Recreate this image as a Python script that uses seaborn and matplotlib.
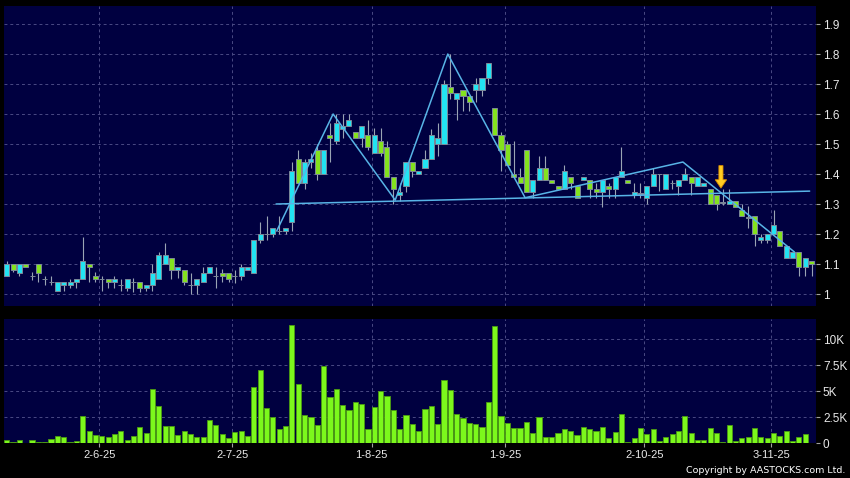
import matplotlib
matplotlib.use('Agg')
import matplotlib.pyplot as plt
from matplotlib.patches import FancyArrow
import numpy as np
import seaborn as sns

# daily OHLC, 13-May-2025 .. 12-Nov-2025 (trading days)
opens = [
    1.06, 1.10, 1.07, 1.10, 1.06, 1.10, 1.05, 1.04, 1.01, 1.03,
    1.03, 1.04, 1.05, 1.10, 1.06, 1.05, 1.05, 1.04, 1.03, 1.02,
    1.04, 1.04, 1.02, 1.03, 1.05, 1.10, 1.12, 1.08, 1.08, 1.03,
    1.03, 1.04, 1.07, 1.06, 1.07, 1.07, 1.06, 1.06, 1.08, 1.07,
    1.18, 1.20, 1.20, 1.21, 1.21, 1.24, 1.45, 1.37, 1.44, 1.48,
    1.40, 1.53, 1.51, 1.55, 1.56, 1.54, 1.52, 1.53, 1.47, 1.51,
    1.49, 1.39, 1.33, 1.36, 1.44, 1.40, 1.42, 1.45, 1.50, 1.50,
    1.69, 1.65, 1.68, 1.66, 1.68, 1.68, 1.72, 1.62, 1.53, 1.50,
    1.40, 1.39, 1.48, 1.34, 1.38, 1.42, 1.38, 1.36, 1.35, 1.39,
    1.36, 1.38, 1.38, 1.35, 1.34, 1.36, 1.35, 1.39, 1.38, 1.33,
    1.335, 1.32, 1.36, 1.40, 1.35, 1.37, 1.36, 1.38, 1.39, 1.36,
    1.36, 1.35, 1.33, 1.305, 1.30, 1.31, 1.28, 1.255, 1.26, 1.18,
    1.18, 1.20, 1.21, 1.12, 1.12, 1.14, 1.09, 1.11]
closes = [
    1.10, 1.08, 1.10, 1.09, 1.06, 1.07, 1.05, 1.04, 1.04, 1.04,
    1.04, 1.05, 1.11, 1.09, 1.05, 1.05, 1.04, 1.05, 1.03, 1.05,
    1.04, 1.02, 1.03, 1.07, 1.13, 1.13, 1.08, 1.09, 1.04, 1.03,
    1.05, 1.07, 1.09, 1.06, 1.06, 1.05, 1.06, 1.09, 1.09, 1.18,
    1.20, 1.20, 1.22, 1.21, 1.22, 1.41, 1.37, 1.44, 1.45, 1.40,
    1.48, 1.52, 1.57, 1.56, 1.58, 1.52, 1.56, 1.49, 1.53, 1.47,
    1.39, 1.35, 1.34, 1.44, 1.41, 1.41, 1.45, 1.53, 1.52, 1.70,
    1.67, 1.67, 1.66, 1.64, 1.70, 1.72, 1.77, 1.53, 1.48, 1.43,
    1.39, 1.37, 1.34, 1.38, 1.42, 1.38, 1.37, 1.35, 1.41, 1.37,
    1.32, 1.39, 1.35, 1.34, 1.38, 1.35, 1.39, 1.41, 1.37, 1.34,
    1.335, 1.36, 1.40, 1.40, 1.40, 1.37, 1.38, 1.40, 1.37, 1.39,
    1.37, 1.30, 1.30, 1.305, 1.31, 1.29, 1.26, 1.255, 1.20, 1.19,
    1.20, 1.23, 1.16, 1.16, 1.14, 1.09, 1.12, 1.10]
highs = [
    1.11, 1.10, 1.10, 1.10, 1.075, 1.10, 1.06, 1.06, 1.04, 1.04,
    1.05, 1.05, 1.19, 1.10, 1.075, 1.06, 1.05, 1.06, 1.05, 1.05,
    1.055, 1.04, 1.03, 1.10, 1.14, 1.17, 1.12, 1.09, 1.08, 1.07,
    1.05, 1.09, 1.09, 1.09, 1.085, 1.07, 1.08, 1.10, 1.09, 1.18,
    1.24, 1.26, 1.22, 1.26, 1.22, 1.44, 1.48, 1.45, 1.47, 1.50,
    1.48, 1.57, 1.60, 1.60, 1.60, 1.54, 1.56, 1.58, 1.555, 1.555,
    1.51, 1.39, 1.37, 1.44, 1.44, 1.41, 1.48, 1.55, 1.57, 1.715,
    1.80, 1.67, 1.68, 1.66, 1.72, 1.72, 1.77, 1.62, 1.54, 1.51,
    1.51, 1.42, 1.48, 1.38, 1.46, 1.46, 1.38, 1.36, 1.43, 1.39,
    1.36, 1.39, 1.38, 1.37, 1.38, 1.37, 1.39, 1.49, 1.38, 1.37,
    1.37, 1.36, 1.42, 1.40, 1.40, 1.38, 1.38, 1.42, 1.39, 1.39,
    1.37, 1.35, 1.33, 1.35, 1.35, 1.31, 1.30, 1.295, 1.26, 1.20,
    1.20, 1.28, 1.21, 1.16, 1.14, 1.14, 1.12, 1.11]
lows = [
    1.06, 1.075, 1.06, 1.09, 1.048, 1.04, 1.03, 1.03, 1.01, 1.01,
    1.02, 1.02, 1.05, 1.04, 1.04, 1.01, 1.02, 1.02, 1.01, 1.01,
    1.007, 1.007, 1.01, 1.01, 1.05, 1.10, 1.05, 1.053, 1.03, 1.00,
    1.00, 1.04, 1.07, 1.02, 1.04, 1.04, 1.036, 1.047, 1.08, 1.07,
    1.17, 1.18, 1.19, 1.20, 1.20, 1.21, 1.37, 1.35, 1.42, 1.38,
    1.40, 1.44, 1.50, 1.52, 1.56, 1.52, 1.49, 1.48, 1.47, 1.46,
    1.39, 1.30, 1.31, 1.34, 1.39, 1.40, 1.42, 1.45, 1.46, 1.50,
    1.65, 1.58, 1.61, 1.61, 1.64, 1.66, 1.70, 1.53, 1.41, 1.43,
    1.39, 1.37, 1.34, 1.32, 1.38, 1.38, 1.37, 1.35, 1.35, 1.35,
    1.32, 1.38, 1.32, 1.32, 1.29, 1.32, 1.32, 1.39, 1.37, 1.32,
    1.32, 1.30, 1.36, 1.345, 1.35, 1.35, 1.33, 1.38, 1.33, 1.36,
    1.36, 1.30, 1.28, 1.298, 1.30, 1.29, 1.26, 1.22, 1.16, 1.17,
    1.17, 1.20, 1.16, 1.12, 1.12, 1.06, 1.06, 1.06]
# volume in thousands
volumes = [
    0.32, 0.16, 0.29, 0.03, 0.29, 0.13, 0.13, 0.45, 0.70, 0.64,
    0.10, 0.22, 2.66, 1.15, 0.80, 0.70, 0.60, 0.87, 1.15, 0.32,
    0.70, 1.54, 0.96, 5.20, 3.62, 1.67, 1.63, 0.80, 1.22, 0.90,
    0.60, 0.60, 2.21, 1.73, 0.93, 0.54, 1.12, 1.19, 0.70, 5.42,
    7.02, 3.43, 2.50, 1.41, 1.63, 11.35, 5.74, 2.72, 2.53, 1.73,
    7.47, 4.42, 5.22, 3.69, 3.17, 4.00, 3.78, 1.38, 3.49, 5.03,
    4.55, 3.17, 1.38, 2.69, 1.86, 1.15, 3.33, 3.62, 1.83, 6.09,
    5.13, 2.82, 2.40, 1.99, 1.86, 1.60, 3.97, 11.28, 2.66, 1.92,
    1.44, 1.44, 2.08, 1.03, 2.53, 0.61, 0.61, 0.96, 1.35, 1.22,
    0.80, 1.54, 1.41, 1.22, 1.60, 0.51, 1.12, 2.79, 0.16, 0.54,
    1.44, 0.93, 1.38, 0.19, 0.64, 0.90, 1.19, 2.66, 0.96, 0.32,
    0.32, 1.44, 1.03, 0.13, 1.73, 0.26, 0.54, 0.64, 1.44, 0.64,
    0.48, 0.96, 0.70, 1.19, 0.26, 0.58, 0.90, 0.05]

# head & shoulders pattern lines (bar index, price)
pattern_idx = [42.6, 51.5, 61.3, 69.6, 81.8, 106.7, 124.3]
pattern_px = [1.21, 1.60, 1.313, 1.80, 1.321, 1.44, 1.14]
neck_idx = [42.5, 126.7]
neck_px = [1.30, 1.343]
arrow_idx = 112.7
arrow_top, arrow_tip = 1.428, 1.353

date_idx = [14, 35, 57, 78, 100, 120]
date_labels = ['2-6-25', '2-7-25', '1-8-25', '1-9-25', '2-10-25', '3-11-25']
price_ticks = [1.0, 1.1, 1.2, 1.3, 1.4, 1.5, 1.6, 1.7, 1.8, 1.9]
price_labels = ['1', '1.1', '1.2', '1.3', '1.4', '1.5', '1.6', '1.7', '1.8', '1.9']
vol_ticks = [0, 2.5, 5, 7.5, 10]
vol_labels = ['0', '2.5K', '5K', '7.5K', '10K']

for arr in (opens, closes, highs, lows, volumes):
    assert len(arr) == 128

sns.set_theme(style='dark', rc={'axes.facecolor': '#000040',
                                'figure.facecolor': 'black',
                                'savefig.facecolor': 'black'})
plt.rcParams['font.family'] = ['Liberation Sans', 'DejaVu Sans']

BG = '#000040'
GRID = '#4a4a84'
TXT = '#e8e8e8'
UP = '#22e3f2'
DOWN = '#84e21e'

idx = np.arange(len(opens))
o = np.array(opens)
c = np.array(closes)
tick_pos = np.array(date_idx) + 0.6
xlim = (-0.43, 127.7)

fig = plt.figure(figsize=(8.5, 4.78), dpi=100)
ax = fig.add_axes([0.0047, 0.3598, 0.9553, 0.6276])
axv = fig.add_axes([0.0047, 0.0726, 0.9553, 0.2600])

for a in (ax, axv):
    a.set_facecolor(BG)
    for s in a.spines.values():
        s.set_visible(False)
    a.grid(True, color=GRID, linestyle=(0, (3, 3)), linewidth=0.7)
    a.set_axisbelow(True)

# candles
ax.vlines(idx, lows, highs, color='#9aa4b4', linewidth=0.8, zorder=2)
body_low = np.minimum(o, c)
body_h = np.maximum(np.abs(c - o), 0.0015)
colors = [UP if cc > oo else (DOWN if cc < oo else '#9aa4b4') for oo, cc in zip(o, c)]
ax.bar(idx, body_h, bottom=body_low, width=0.8, color=colors,
       edgecolor='#7c8898', linewidth=0.7, zorder=3)

# pattern lines
ax.plot(pattern_idx, pattern_px, color='#58b4e6', linewidth=1.1, zorder=4)
ax.plot(neck_idx, neck_px, color='#58b4e6', linewidth=1.1, zorder=4)
ax.add_patch(FancyArrow(arrow_idx, arrow_top, 0, arrow_tip - arrow_top, width=0.65,
                        head_width=1.8, head_length=0.028, length_includes_head=True,
                        fc='#ffcc22', ec='#d88a00', linewidth=0.6, zorder=5))

ax.set_xlim(*xlim)
ax.set_ylim(0.96, 1.96)
ax.yaxis.tick_right()
ax.set_yticks(price_ticks)
ax.set_yticklabels(price_labels)
ax.set_xticks(tick_pos)
ax.set_xticklabels([])
ax.tick_params(axis='y', right=True, length=3, width=0.8, color='#a0a0a0',
               labelcolor=TXT, labelsize=8.5, pad=2)
ax.tick_params(axis='x', bottom=False, length=0)

# volume
sns.barplot(x=idx, y=volumes, native_scale=True, color='#7cf81c', saturation=1,
            width=0.82, errorbar=None, edgecolor='#4c9c12', linewidth=0.6, ax=axv)
axv.set_xlim(*xlim)
axv.set_ylim(0, 11.95)
axv.yaxis.tick_right()
axv.set_yticks(vol_ticks)
axv.set_yticklabels(vol_labels)
axv.set_xticks(tick_pos)
axv.set_xticklabels(date_labels)
axv.set_xlabel('')
axv.set_ylabel('')
axv.tick_params(axis='y', right=True, left=False, length=3, width=0.8, color='#a0a0a0',
                labelcolor=TXT, labelsize=8.5, pad=2)
axv.tick_params(axis='x', bottom=True, length=3, width=0.8, color='#a0a0a0',
                labelcolor=TXT, labelsize=8, pad=2)

fig.text(0.994, 0.016, 'Copyright by AASTOCKS.com Ltd.', ha='right', va='center',
         color='white', fontsize=6.8, family=['DejaVu Sans'])

fig.savefig('out.png', dpi=100, facecolor='black')
